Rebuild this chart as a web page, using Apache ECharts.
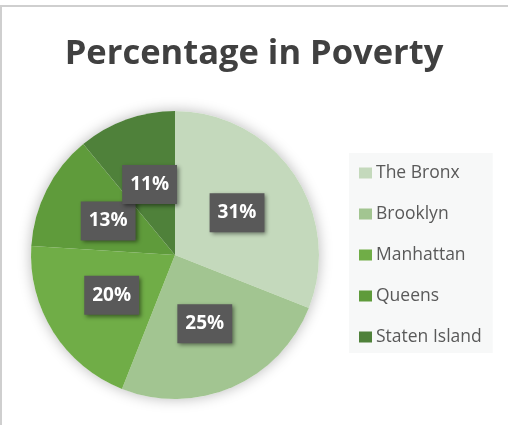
<!DOCTYPE html>
<html lang="en">

<head>
    <meta charset="UTF-8">
    <title>Percentage in Poverty</title>
    <script src="https://cdn.jsdelivr.net/npm/echarts@6/dist/echarts.min.js"></script>
    <style>
        body,
        html {
            margin: 0;
            padding: 0;
            background: #fff;
        }

        #frame {
            position: absolute;
            left: 0;
            top: 5px;
            width: 506px;
            height: 418px;
            border-top: 2px solid #cfcfcf;
            border-left: 2px solid #cfcfcf;
        }

        #main {
            position: absolute;
            left: 0;
            top: 0;
            width: 508px;
            height: 425px;
        }
    </style>
</head>

<body>
    <div id="frame"></div>
    <div id="main"></div>
    <script>
        var boroughs = ['The Bronx', 'Brooklyn', 'Manhattan', 'Queens', 'Staten Island'];
        var percents = [31, 25, 20, 13, 11];
        var colors = ['#c4d9bc', '#a2c591', '#70ad47', '#5f9b3b', '#4f813a'];

        var pieData = [];
        for (var i = 0; i < boroughs.length; i++) {
            pieData.push({ name: boroughs[i], value: percents[i] });
        }

        var myChart = echarts.init(document.getElementById('main'));
        var option = {
            color: colors,
            title: {
                text: 'Percentage in Poverty',
                left: 'center',
                top: 32,
                textStyle: {
                    fontFamily: 'Open Sans',
                    fontWeight: 'bold',
                    fontSize: 34.5,
                    color: '#404040'
                }
            },
            legend: {
                orient: 'vertical',
                left: 349,
                top: 153,
                padding: [10, 11, 6, 10],
                backgroundColor: '#f7f8f8',
                icon: 'rect',
                itemWidth: 13,
                itemHeight: 11,
                itemGap: 21,
                textStyle: {
                    fontFamily: 'Open Sans',
                    fontSize: 17.5,
                    lineHeight: 20,
                    color: '#595959',
                    padding: [0, 0, 0, -1]
                },
                data: boroughs
            },
            series: [
                {
                    // soft shadow behind the whole pie
                    type: 'pie',
                    silent: true,
                    center: [175, 255],
                    radius: 144,
                    z: 1,
                    label: { show: false },
                    itemStyle: {
                        color: '#ffffff',
                        shadowBlur: 14,
                        shadowColor: 'rgba(0,0,0,0.28)'
                    },
                    data: [{ name: '', value: 1 }]
                },
                {
                    type: 'pie',
                    center: [175, 255],
                    radius: 144,
                    startAngle: 90,
                    z: 2,
                    avoidLabelOverlap: false,
                    labelLayout: { hideOverlap: false },
                    itemStyle: {
                        borderWidth: 0
                    },
                    label: {
                        show: true,
                        position: 'inside',
                        formatter: '{c}%',
                        fontFamily: 'Open Sans',
                        fontWeight: 'bold',
                        fontSize: 19,
                        lineHeight: 23,
                        color: '#ffffff',
                        backgroundColor: '#595959',
                        padding: [8, 8],
                        shadowColor: 'rgba(0,0,0,0.45)',
                        shadowBlur: 4,
                        shadowOffsetX: 2,
                        shadowOffsetY: 2
                    },
                    labelLine: { show: false },
                    emphasis: { scale: false },
                    data: pieData
                }
            ]
        };
        myChart.setOption(option);
    </script>
</body>

</html>
